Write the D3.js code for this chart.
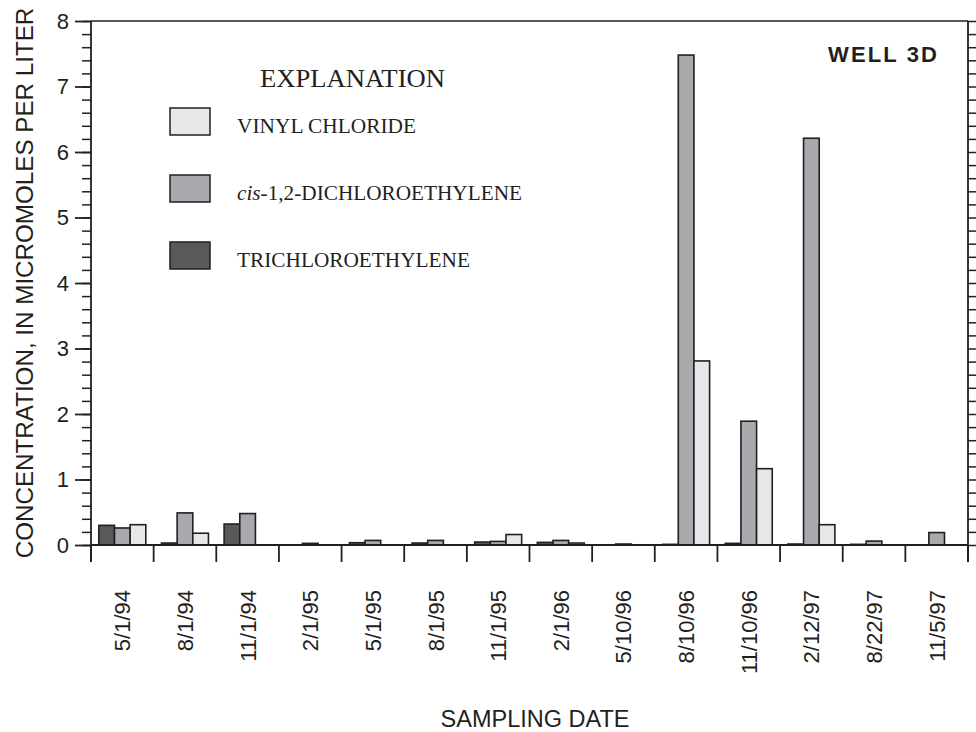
<!DOCTYPE html>
<html><head><meta charset="utf-8">
<script src="https://cdn.jsdelivr.net/npm/d3@7"></script>
<style>
html,body{margin:0;padding:0;background:#fff;}
svg{display:block;}
</style>
</head><body>
<svg id="chart" width="976" height="732"></svg>
<script>
const categories = ["5/1/94","8/1/94","11/1/94","2/1/95","5/1/95","8/1/95","11/1/95","2/1/96","5/10/96","8/10/96","11/10/96","2/12/97","8/22/97","11/5/97"];
const seriesNames = ["TRICHLOROETHYLENE","cis-1,2-DICHLOROETHYLENE","VINYL CHLORIDE"];
const tce = [0.30,0.03,0.32,0,0.035,0.03,0.045,0.04,0,0.01,0.025,0.015,0.01,0];
const dce = [0.26,0.49,0.48,0.025,0.07,0.07,0.055,0.07,0.015,7.48,1.89,6.21,0.06,0.19];
const vc  = [0.31,0.18,0,0,0,0,0.16,0.03,0,2.81,1.165,0.31,0,0];
const yTicks = [0,1,2,3,4,5,6,7,8];

const ink = "#231f20";
const colors = {tce:"#58595b", dce:"#a7a9ac", vc:"#e6e7e8"};
const svg = d3.select("#chart");
const L=91, R=968, T=21, B=545;

const x = d3.scaleBand().domain(categories).range([L,R]).paddingInner(0).paddingOuter(0);
const xs = d3.scaleBand().domain(["tce","dce","vc"]).range([0,x.bandwidth()]).paddingInner(0).paddingOuter(0.5);
const y = d3.scaleLinear().domain([0,8]).range([B,T]);

// bars
const series = [{k:"tce",v:tce},{k:"dce",v:dce},{k:"vc",v:vc}];
series.forEach(s=>{
  svg.append("g").selectAll("rect").data(categories.map((c,i)=>({c,v:s.v[i]})).filter(d=>d.v>0))
    .join("rect")
    .attr("x",d=>x(d.c)+xs(s.k))
    .attr("width",xs.bandwidth())
    .attr("y",d=>y(d.v))
    .attr("height",d=>y(0)-y(d.v))
    .attr("fill",colors[s.k])
    .attr("stroke",ink).attr("stroke-width",1.6);
});

// left axis
const minor = d3.range(0,8.001,0.2);
const gl = svg.append("g").attr("transform",`translate(${L},0)`)
  .call(d3.axisLeft(y).tickValues(minor).tickSize(9).tickFormat(""));
gl.select(".domain").remove();
gl.selectAll("line").attr("stroke",ink).attr("stroke-width",1.5);
const gl2 = svg.append("g").attr("transform",`translate(${L},0)`)
  .call(d3.axisLeft(y).tickValues(yTicks).tickSize(16).tickPadding(6).tickFormat(d3.format("d")));
gl2.select(".domain").remove();
gl2.selectAll("line").attr("stroke",ink).attr("stroke-width",1.8);
gl2.selectAll("text").attr("font-family","Arial, 'Liberation Sans', sans-serif").attr("font-size",22).attr("fill",ink);

// right axis
const gr = svg.append("g").attr("transform",`translate(${R},0)`)
  .call(d3.axisRight(y).tickValues(minor).tickSize(9).tickFormat(""));
gr.select(".domain").remove();
gr.selectAll("line").attr("stroke",ink).attr("stroke-width",1.5);

// frame lines
svg.append("line").attr("x1",L).attr("x2",L).attr("y1",T).attr("y2",562).attr("stroke",ink).attr("stroke-width",1.8);
svg.append("line").attr("x1",R).attr("x2",R).attr("y1",T).attr("y2",562).attr("stroke",ink).attr("stroke-width",1.8);
svg.append("line").attr("x1",L).attr("x2",R).attr("y1",T).attr("y2",T).attr("stroke",ink).attr("stroke-width",1.5);
svg.append("line").attr("x1",L).attr("x2",R).attr("y1",B).attr("y2",B).attr("stroke",ink).attr("stroke-width",2);

// bottom axis: boundary ticks + rotated labels
const gb = svg.append("g").attr("transform",`translate(0,${B})`)
  .call(d3.axisBottom(x).tickSize(0).tickFormat(""));
gb.select(".domain").remove();
svg.append("g").selectAll("line").data(categories.map(c=>x(c)).concat([R]))
  .join("line").attr("x1",d=>d).attr("x2",d=>d).attr("y1",B).attr("y2",562)
  .attr("stroke",ink).attr("stroke-width",1.8);
svg.append("g").selectAll("text").data(categories).join("text")
  .attr("transform",d=>`translate(${x(d)+x.bandwidth()/2+8},590) rotate(-90)`)
  .attr("text-anchor","end")
  .attr("font-family","Arial, 'Liberation Sans', sans-serif").attr("font-size",22).attr("fill",ink)
  .text(d=>d);

// axis titles
svg.append("text").attr("x",535).attr("y",727).attr("text-anchor","middle")
  .attr("font-family","Arial, 'Liberation Sans', sans-serif").attr("font-size",23.5).attr("fill",ink)
  .text("SAMPLING DATE");
svg.append("text").attr("transform","translate(33,283) rotate(-90)").attr("text-anchor","middle")
  .attr("font-family","Arial, 'Liberation Sans', sans-serif").attr("font-size",24.2).attr("fill",ink)
  .text("CONCENTRATION, IN MICROMOLES PER LITER");

// well label
svg.append("text").attr("x",937).attr("y",62).attr("text-anchor","end")
  .attr("font-family","Arial, 'Liberation Sans', sans-serif").attr("font-weight","bold").attr("font-size",22).attr("fill",ink)
  .attr("textLength",109).attr("lengthAdjust","spacing")
  .text("WELL 3D");

// legend
const serif = "'Times New Roman', 'Liberation Serif', serif";
svg.append("text").attr("x",260).attr("y",87).attr("font-family",serif).attr("font-size",26).attr("fill",ink)
  .attr("textLength",185).attr("lengthAdjust","spacingAndGlyphs").text("EXPLANATION");
const legendItems = [
  {k:"vc", y:108, label:"VINYL CHLORIDE", w:179},
  {k:"dce", y:175, label:"cis-1,2-DICHLOROETHYLENE", w:285},
  {k:"tce", y:242, label:"TRICHLOROETHYLENE", w:233}
];
legendItems.forEach(it=>{
  svg.append("rect").attr("x",170).attr("y",it.y).attr("width",40).attr("height",27)
    .attr("fill",colors[it.k]).attr("stroke",ink).attr("stroke-width",1.5);
  const t = svg.append("text").attr("x",237).attr("y",it.y+25).attr("font-family",serif)
    .attr("font-size",20).attr("fill",ink)
    .attr("textLength",it.w).attr("lengthAdjust","spacingAndGlyphs");
  if(it.k==="dce"){
    t.append("tspan").attr("font-style","italic").text("cis");
    t.append("tspan").text("-1,2-DICHLOROETHYLENE");
  } else t.text(it.label);
});
</script>
</body></html>
